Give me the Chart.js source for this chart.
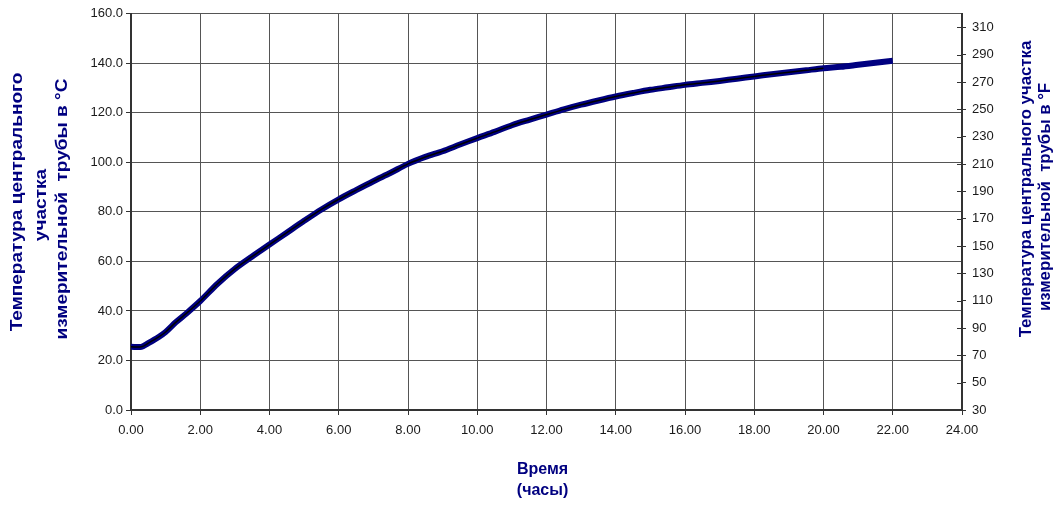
<!DOCTYPE html>
<html>
<head>
<meta charset="utf-8">
<script src="https://cdn.jsdelivr.net/npm/chart.js@4/dist/chart.umd.min.js"></script>
<style>
  html, body { margin: 0; padding: 0; background: #fff; }
  #wrap { width: 1055px; height: 506px; position: relative; }
</style>
</head>
<body>
<div id="wrap"><canvas id="temp-canvas"></canvas></div>
<script>
  // время, часы
  const hours = [0, 0.3, 0.5, 0.8, 1.0, 1.3, 1.6, 2.0, 2.5, 3.0, 3.5, 4.0, 4.5, 5.0, 5.5, 6.0, 6.5, 7.0, 7.5, 8.0,
    8.5, 9.0, 9.5, 10.0, 10.5, 11.0, 11.5, 12.0, 12.5, 13.0, 13.5, 14.0, 14.5, 15.0, 15.5, 16.0, 16.5, 17.0,
    17.5, 18.0, 18.5, 19.0, 19.5, 20.0, 20.5, 21.0, 21.5, 22.0];
  // температура, °C
  const tempC = [25.5, 25.5, 27.0, 29.5, 31.5, 35.5, 39.0, 44.0, 51.0, 57.0, 62.0, 66.8, 71.6, 76.4, 81.0, 85.1, 88.8, 92.4, 95.8, 99.4,
    102.2, 104.5, 107.2, 109.8, 112.3, 115.0, 117.2, 119.3, 121.4, 123.3, 125.0, 126.6, 128.0, 129.3, 130.3, 131.3, 132.1, 132.9,
    133.8, 134.7, 135.6, 136.4, 137.2, 138.0, 138.6, 139.4, 140.2, 141.0];
  const fTicks = [30, 50, 70, 90, 110, 130, 150, 170, 190, 210, 230, 250, 270, 290, 310];

  const navy = '#000080';
  const gridColor = '#555555';
  const axisColor = '#333333';
  const tickFont = { family: "'Liberation Sans', Arial, sans-serif", size: 13 };
  const titleFont = "bold 16px 'Liberation Sans', Arial, sans-serif";

  const points = hours.map((h, i) => ({ x: h, y: tempC[i] }));

  // vertical text, stretched along its direction like in the original picture
  function drawUp(ctx, text, x, y, stretch) {
    ctx.save();
    ctx.translate(x, y);
    ctx.rotate(-Math.PI / 2);
    ctx.scale(stretch, 1);
    ctx.fillText(text, 0, 0);
    ctx.restore();
  }

  const axisTitles = {
    id: 'axisTitles',
    afterDraw(chart) {
      const { ctx, chartArea } = chart;
      const midX = (chartArea.left + chartArea.right) / 2;
      ctx.save();
      ctx.fillStyle = navy;
      ctx.font = titleFont;
      ctx.textAlign = 'center';
      ctx.textBaseline = 'middle';

      drawUp(ctx, 'Температура центрального', 18, 202, 1.19);
      drawUp(ctx, 'участка', 42, 205, 1.19);
      drawUp(ctx, 'измерительной  трубы в °C', 63, 209, 1.19);

      drawUp(ctx, 'Температура центрального участка', 1027, 189, 1.05);
      drawUp(ctx, 'измерительной  трубы в °F', 1046, 197, 1.05);

      ctx.fillText('Время', midX - 4, 470);
      ctx.fillText('(часы)', midX - 4, 491);

      // right axis ticks cross the axis line
      const yF = chart.scales.yF;
      ctx.strokeStyle = axisColor;
      ctx.lineWidth = 1;
      fTicks.forEach((v) => {
        const py = Math.round(yF.getPixelForValue(v)) + 0.5;
        ctx.beginPath();
        ctx.moveTo(chartArea.right - 5, py);
        ctx.lineTo(chartArea.right, py);
        ctx.stroke();
      });
      ctx.restore();
    }
  };

  new Chart(document.getElementById('temp-canvas'), {
    type: 'line',
    data: {
      datasets: [
        {
          label: 'core',
          data: points,
          borderColor: '#000000',
          borderWidth: 1.5,
          pointRadius: 0,
          tension: 0.3,
          segment: { borderColor: (c) => (c.p0.parsed.x >= 20 ? 'rgba(0,0,0,0)' : '#000000') },
          order: 0
        },
        {
          label: 'temp',
          data: points,
          borderColor: navy,
          borderWidth: 6,
          pointRadius: 0,
          tension: 0.3,
          order: 1
        }
      ]
    },
    options: {
      responsive: true,
      maintainAspectRatio: false,
      animation: false,
      layout: { padding: { top: 12, left: 0, right: 0, bottom: 0 } },
      plugins: { legend: { display: false }, tooltip: { enabled: false } },
      scales: {
        x: {
          type: 'linear',
          min: 0,
          max: 24,
          ticks: { stepSize: 2, color: '#1a1a1a', font: tickFont, padding: 8, maxRotation: 0,
            callback: (v) => Number(v).toFixed(2) },
          grid: { color: gridColor, tickLength: 5, tickColor: axisColor },
          border: { color: axisColor, width: 2 },
          afterFit: (s) => { s.height = 96; }
        },
        y: {
          position: 'left',
          min: 0,
          max: 160,
          ticks: { stepSize: 20, color: '#1a1a1a', font: tickFont, padding: 3,
            callback: (v) => Number(v).toFixed(1) },
          grid: { color: gridColor, tickLength: 5, tickColor: axisColor },
          border: { color: axisColor, width: 2 },
          afterFit: (s) => { s.width = 131; }
        },
        yF: {
          position: 'right',
          min: 30,
          max: 320,
          afterBuildTicks: (s) => { s.ticks = fTicks.map((v) => ({ value: v })); },
          ticks: { color: '#1a1a1a', font: tickFont, padding: 6 },
          grid: { drawOnChartArea: false, tickLength: 4, color: axisColor },
          border: { color: axisColor, width: 2 },
          afterFit: (s) => { s.width = 93; }
        }
      }
    },
    plugins: [axisTitles]
  });
</script>
</body>
</html>
